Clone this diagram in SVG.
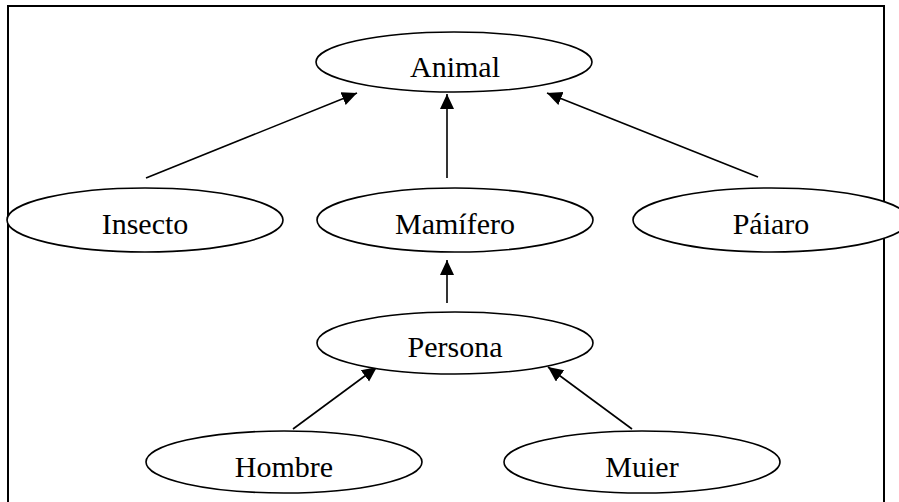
<svg xmlns="http://www.w3.org/2000/svg" width="899" height="502" viewBox="0 0 899 502">
  <style>
    .frame { fill: none; stroke: #000; stroke-width: 2; }
    .node ellipse { fill: #fff; stroke: #000; stroke-width: 1.6; }
    .node text { font-family: "Liberation Serif", "Times New Roman", serif; font-size: 30px; fill: #000; text-anchor: middle; }
    .edge { stroke: #000; stroke-width: 1.6; fill: none; marker-end: url(#arrow); }
  </style>
  <defs>
    <marker id="arrow" markerUnits="userSpaceOnUse" markerWidth="16" markerHeight="16" refX="15" refY="7" orient="auto">
      <path d="M0,0 L15,7 L0,14 z" fill="#000"/>
    </marker>
  </defs>

  <rect width="899" height="502" fill="#fff"/>
  <!-- outer frame, open at the bottom -->
  <rect class="frame" x="8" y="6" width="876" height="510"/>

  <g id="connectors">
    <line class="edge" x1="146" y1="178" x2="357" y2="93"/>
    <line class="edge" x1="447" y1="178" x2="447" y2="94"/>
    <line class="edge" x1="758" y1="177" x2="547" y2="93"/>
    <line class="edge" x1="447" y1="303" x2="447" y2="260"/>
    <line class="edge" x1="293" y1="429" x2="377" y2="367"/>
    <line class="edge" x1="632" y1="429" x2="548" y2="367"/>
  </g>

  <g id="animal" class="node">
    <ellipse cx="454" cy="62" rx="138" ry="30"/>
    <text x="455" y="77">Animal</text>
  </g>
  <g id="insecto" class="node">
    <ellipse cx="145" cy="220" rx="138" ry="32"/>
    <text x="145" y="234">Insecto</text>
  </g>
  <g id="mamifero" class="node">
    <ellipse cx="455" cy="220" rx="138" ry="32"/>
    <text x="455" y="234">Mamífero</text>
  </g>
  <g id="pajaro" class="node">
    <ellipse cx="771" cy="220" rx="138" ry="32"/>
    <text x="771" y="234">Páiaro</text>
  </g>
  <g id="persona" class="node">
    <ellipse cx="455" cy="343" rx="138" ry="31"/>
    <text x="455" y="357">Persona</text>
  </g>
  <g id="hombre" class="node">
    <ellipse cx="284" cy="462" rx="138" ry="31"/>
    <text x="284" y="477">Hombre</text>
  </g>
  <g id="muier" class="node">
    <ellipse cx="642" cy="462" rx="138" ry="31"/>
    <text x="642" y="477">Muier</text>
  </g>
</svg>
